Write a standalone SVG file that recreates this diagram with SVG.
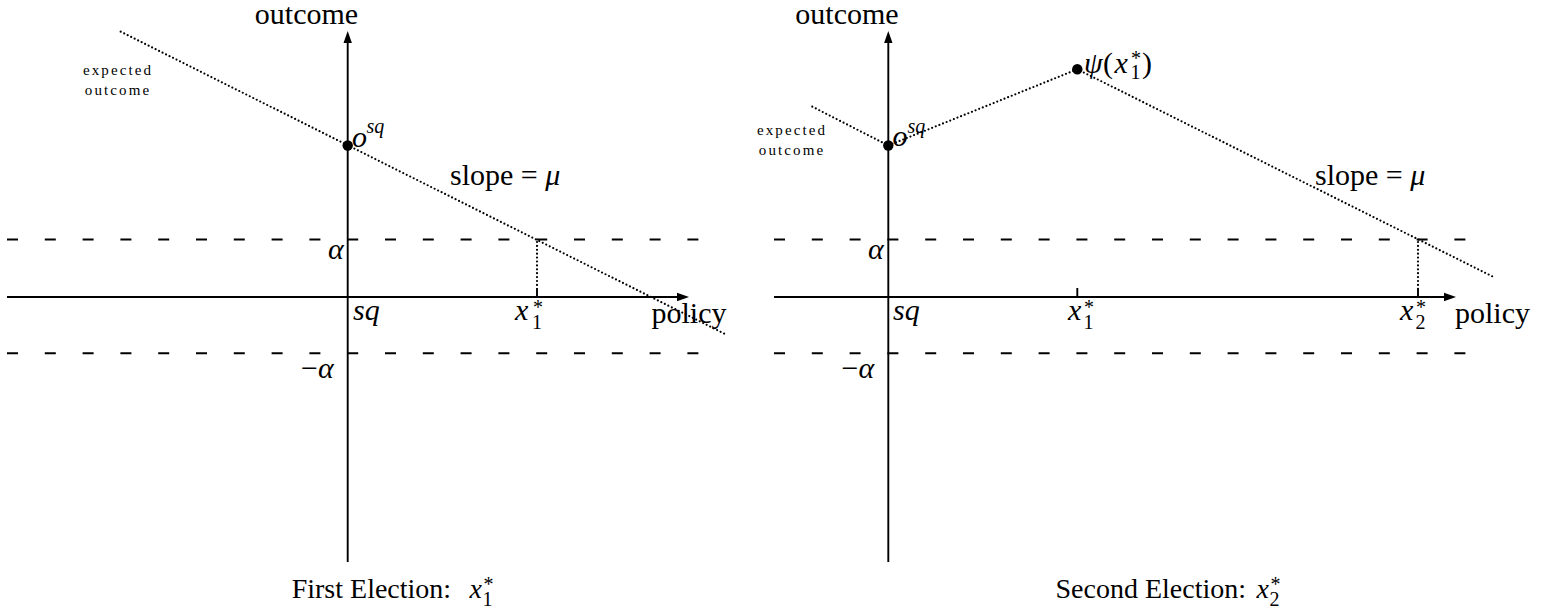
<svg xmlns="http://www.w3.org/2000/svg" width="1548" height="613" viewBox="0 0 1548 613">
<style>
text{font-family:"Liberation Serif","DejaVu Serif",serif;fill:#000}
.it{font-style:italic}
.ax{stroke:#000;stroke-width:1.9;fill:none}
.dash{stroke:#000;stroke-width:1.9;fill:none;stroke-dasharray:11 26.8}
.dot{stroke:#000;stroke-width:2.2;fill:none;stroke-dasharray:0 3.9;stroke-linecap:round}
.small{font-size:15px;letter-spacing:2.1px}
.lab{font-size:30px}
.sub{font-size:20px}
.cap{font-size:28px}
</style>
<rect width="1548" height="613" fill="#fff"/>

<!-- LEFT PANEL -->
<g id="left-axes">
  <line class="dash" x1="7" y1="239.5" x2="699" y2="239.5"/>
  <line class="dash" x1="7" y1="353.3" x2="699" y2="353.3"/>
  <line class="ax" x1="7" y1="297" x2="680" y2="297"/>
  <path d="M689,297 L677,292.8 L677,301.2 Z" fill="#000"/>
  <line class="ax" x1="347.7" y1="562" x2="347.7" y2="40"/>
  <path d="M347.7,31 L343.5,43 L351.9,43 Z" fill="#000"/>
  <line class="ax" x1="537" y1="288" x2="537" y2="297"/>
</g>
<g id="left-connectors">
  <line class="dot" x1="120.7" y1="31.7" x2="727" y2="335"/>
  <line class="dot" x1="537" y1="242" x2="537" y2="288"/>
</g>
<g id="left-osq">
  <circle cx="347.7" cy="145.5" r="5.2" fill="#000"/>
  <text class="lab it" x="352" y="146.5">o</text>
  <text class="sub it" x="366.5" y="133">sq</text>
</g>
<g id="left-labels">
  <text class="lab" x="306.5" y="24" text-anchor="middle">outcome</text>
  <text class="small" x="118" y="75" text-anchor="middle">expected</text>
  <text class="small" x="118" y="95" text-anchor="middle">outcome</text>
  <text class="lab" x="450" y="185">slope = <tspan class="it">μ</tspan></text>
  <text class="lab it" x="328" y="259">α</text>
  <text class="lab" x="301" y="378">−<tspan class="it">α</tspan></text>
  <text class="lab it" x="353" y="320">sq</text>
  <text class="lab it" x="515" y="320">x</text>
  <text class="sub" x="532" y="329">1</text>
  <text class="sub" x="533" y="314">*</text>
  <text class="lab" x="651.5" y="323">policy</text>
</g>
<g id="left-caption">
  <text class="cap" x="291.7" y="598">First Election:</text>
  <text class="cap it" x="469.5" y="598">x</text>
  <text class="sub" x="482.5" y="606">1</text>
  <text class="sub" x="483.5" y="591">*</text>
</g>

<!-- RIGHT PANEL -->
<g id="right-axes">
  <line class="dash" x1="774" y1="239.5" x2="1466" y2="239.5"/>
  <line class="dash" x1="774" y1="353.3" x2="1466" y2="353.3"/>
  <line class="ax" x1="774" y1="297" x2="1447" y2="297"/>
  <path d="M1456,297 L1444,292.8 L1444,301.2 Z" fill="#000"/>
  <line class="ax" x1="888.3" y1="562" x2="888.3" y2="40"/>
  <path d="M888.3,31 L884.1,43 L892.5,43 Z" fill="#000"/>
  <line class="ax" x1="1077.3" y1="288" x2="1077.3" y2="297"/>
  <line class="ax" x1="1418" y1="289" x2="1418" y2="297"/>
</g>
<g id="right-connectors">
  <polyline class="dot" points="812.3,106.7 888.3,145.5 1077.3,69.3 1495,277.7"/>
  <line class="dot" x1="1418" y1="242" x2="1418" y2="289"/>
</g>
<g id="right-osq">
  <circle cx="888.3" cy="145.5" r="5.2" fill="#000"/>
  <text class="lab it" x="892.5" y="146">o</text>
  <text class="sub it" x="907.5" y="133">sq</text>
</g>
<g id="right-psi">
  <circle cx="1077.3" cy="69.3" r="5.2" fill="#000"/>
  <text class="lab it" x="1084" y="73">ψ</text>
  <text class="lab" x="1103" y="73">(</text>
  <text class="lab it" x="1114.5" y="73">x</text>
  <text class="sub" x="1130.5" y="79">1</text>
  <text class="sub" x="1131" y="65">*</text>
  <text class="lab" x="1142" y="73">)</text>
</g>
<g id="right-labels">
  <text class="lab" x="847" y="24" text-anchor="middle">outcome</text>
  <text class="small" x="792" y="135" text-anchor="middle">expected</text>
  <text class="small" x="792" y="155" text-anchor="middle">outcome</text>
  <text class="lab" x="1315" y="185">slope = <tspan class="it">μ</tspan></text>
  <text class="lab it" x="868" y="258.5">α</text>
  <text class="lab" x="841.5" y="377.5">−<tspan class="it">α</tspan></text>
  <text class="lab it" x="893" y="320">sq</text>
  <text class="lab it" x="1068" y="320">x</text>
  <text class="sub" x="1083.5" y="329">1</text>
  <text class="sub" x="1084" y="314">*</text>
  <text class="lab it" x="1400" y="320">x</text>
  <text class="sub" x="1415.5" y="329">2</text>
  <text class="sub" x="1416" y="314">*</text>
  <text class="lab" x="1455" y="323">policy</text>
</g>
<g id="right-caption">
  <text class="cap" x="1246" y="598" text-anchor="end">Second Election:</text>
  <text class="cap it" x="1256.5" y="598">x</text>
  <text class="sub" x="1269.5" y="606">2</text>
  <text class="sub" x="1270.5" y="591">*</text>
</g>
</svg>
